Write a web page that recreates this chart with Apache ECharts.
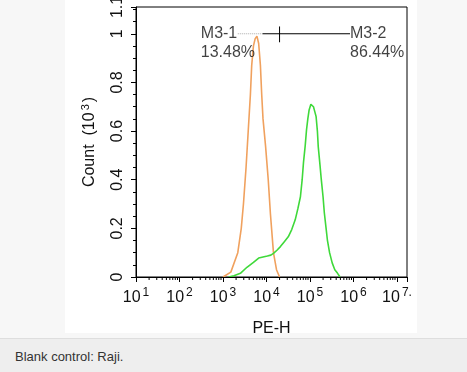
<!DOCTYPE html>
<html><head><meta charset="utf-8">
<script src="https://cdn.jsdelivr.net/npm/echarts@6/dist/echarts.min.js"></script>
<style>
html,body{margin:0;padding:0;width:467px;height:372px;overflow:hidden;background:#f7f7f7;font-family:"Liberation Sans",Arial,sans-serif;}
#top{position:absolute;left:0;top:0;width:467px;height:338px;background:#f7f7f7;border-bottom:1px solid #dedede;}
#chart{position:absolute;left:65px;top:0;width:352px;height:333px;background:#fff;}
#cap{position:absolute;left:0;top:339px;width:467px;height:33px;background:#eeeeee;}
#cap span{position:absolute;left:15px;top:10px;font-size:13px;color:#333;}
</style></head>
<body>
<div id="top"></div>
<div id="chart"></div>
<div id="cap"><span>Blank control: Raji.</span></div>
<script>
// x values are log10(PE-H), y values are Count (10^3)
const orangeX = [3.0, 3.18, 3.34, 3.42, 3.47, 3.53, 3.58, 3.63, 3.66, 3.70, 3.74, 3.78, 3.82, 3.86, 3.89, 3.92, 3.98, 4.04, 4.09, 4.16, 4.23, 4.30];
const orangeY = [0, 0.02, 0.10, 0.20, 0.30, 0.45, 0.60, 0.75, 0.87, 0.95, 0.98, 0.99, 0.96, 0.87, 0.75, 0.65, 0.535, 0.40, 0.26, 0.10, 0.03, 0];
const greenX = [3.13, 3.25, 3.40, 3.55, 3.70, 3.82, 3.92, 4.02, 4.10, 4.16, 4.24, 4.32, 4.41, 4.50, 4.58, 4.66, 4.72, 4.78, 4.82, 4.85, 4.89, 4.92, 4.95, 4.98, 5.02, 5.05, 5.08, 5.11, 5.14, 5.17, 5.19, 5.23, 5.26, 5.30, 5.33, 5.37, 5.40, 5.45, 5.51, 5.57, 5.63, 5.69];
const greenY = [0, 0.005, 0.015, 0.04, 0.06, 0.078, 0.082, 0.086, 0.09, 0.097, 0.11, 0.125, 0.145, 0.165, 0.195, 0.235, 0.28, 0.33, 0.40, 0.47, 0.54, 0.605, 0.65, 0.687, 0.71, 0.716, 0.70, 0.68, 0.66, 0.60, 0.535, 0.46, 0.40, 0.33, 0.263, 0.20, 0.152, 0.10, 0.058, 0.03, 0.016, 0];
const xTickExponents = [1, 2, 3, 4, 5, 6, 7];
const yTickLabels = ['0', '0.2', '0.4', '0.6', '0.8', '1', '1.1'];
const gateY = 1.0;
const gateM1 = [3.34, 3.91];   // dotted (M3-1)
const gateM2 = [3.91, 5.92];   // solid (M3-2)
const gateSplit = 4.30;
const markerNames = ['M3-1', 'M3-2'];
const markerPct = ['13.48%', '86.44%'];
const markerTextX = [2.49, 5.92];

const zip = (a, b) => a.map((v, i) => [v, b[i]]);
const minorX = [];
for (let d = 1; d <= 6; d++) for (let k = 2; k <= 9; k++) minorX.push([d + Math.log10(k), 0]);

const chart = echarts.init(document.getElementById('chart'));
const font = '"Liberation Sans", Arial, sans-serif';
chart.setOption({
  animation: false,
  grid: {left: 71, right: 10, top: 7, bottom: 56, outerBoundsMode: 'none', containLabel: false, show: true, borderColor: '#000', borderWidth: 1, backgroundColor: '#fff'},
  xAxis: {
    type: 'value', min: 1, max: 7.23, interval: 1, z: 5,
    axisLine: {lineStyle: {color: '#000', width: 1}},
    axisTick: {length: 5, lineStyle: {color: '#000'}},
    splitLine: {show: false},
    axisLabel: {
      margin: 10, color: '#111', fontFamily: font,
      formatter: v => {
        const e = Math.round(v);
        if (Math.abs(v - e) > 1e-6 || xTickExponents.indexOf(e) < 0) return '';
        return '{b|10}{s|' + e + (e === 7 ? '.' : '') + '}';
      },
      rich: {b: {fontSize: 16, fontFamily: font, color: '#111'}, s: {fontSize: 12, fontFamily: font, color: '#111', padding: [0, 0, 9, 2]}}
    },
    name: 'PE-H', nameLocation: 'middle', nameGap: 44,
    nameTextStyle: {fontSize: 16, color: '#111', fontFamily: font}
  },
  yAxis: {
    type: 'value', min: 0, max: 1.11, interval: 0.2, z: 5,
    axisLine: {lineStyle: {color: '#000', width: 1}},
    axisTick: {length: 5, lineStyle: {color: '#000'}},
    minorTick: {show: true, splitNumber: 4, length: 3, lineStyle: {color: '#000'}},
    splitLine: {show: false},
    axisLabel: {
      rotate: 90, margin: 10, fontSize: 16, color: '#111', fontFamily: font,
      formatter: v => v > 1.05 ? yTickLabels[6] : yTickLabels[Math.round(v * 5)]
    },
    name: '{a|Count  (10}{s|3}{a|)}', nameLocation: 'middle', nameGap: 36,
    nameTextStyle: {rich: {a: {fontSize: 16, color: '#111', fontFamily: font}, s: {fontSize: 11, color: '#111', fontFamily: font, padding: [0, 2, 9, 2]}}}
  },
  series: [
    {type: 'line', data: zip(orangeX, orangeY), showSymbol: false, symbol: 'none', lineStyle: {color: '#f0a15e', width: 1.6}, z: 2},
    {type: 'line', data: zip(greenX, greenY), showSymbol: false, symbol: 'none', lineStyle: {color: '#3fd93a', width: 1.6}, z: 3},
    {type: 'line', data: gateM1.map(x => [x, gateY]), symbol: 'none', lineStyle: {color: '#aaa', width: 1, type: 'dotted'}, z: 4},
    {type: 'line', data: gateM2.map(x => [x, gateY]), symbol: 'none', lineStyle: {color: '#000', width: 1}, z: 4},
    {type: 'line', data: [[gateSplit, gateY - 0.035], [gateSplit, gateY + 0.03]], symbol: 'none', lineStyle: {color: '#000', width: 1}, z: 4},
    {type: 'scatter', symbolSize: 0, z: 6,
      data: markerNames.map((n, i) => ({value: [markerTextX[i], gateY], name: n})),
      label: {show: true, position: 'inside', align: 'left', verticalAlign: 'middle', formatter: p => p.name, fontSize: 16, color: '#111', fontFamily: font}},
    {type: 'scatter', symbolSize: 0, z: 6,
      data: markerPct.map((n, i) => ({value: [markerTextX[i], gateY - 0.078], name: n})),
      label: {show: true, position: 'inside', align: 'left', verticalAlign: 'middle', formatter: p => p.name, fontSize: 16, color: '#111', fontFamily: font}},
    {type: 'custom', data: minorX, clip: false, z: 6, silent: true,
      renderItem: (params, api) => {
        const p = api.coord([api.value(0), 0]);
        return {type: 'line', shape: {x1: p[0], y1: p[1], x2: p[0], y2: p[1] + 3}, style: {stroke: '#000', lineWidth: 1}};
      }}
  ]
});
</script>
</body></html>
